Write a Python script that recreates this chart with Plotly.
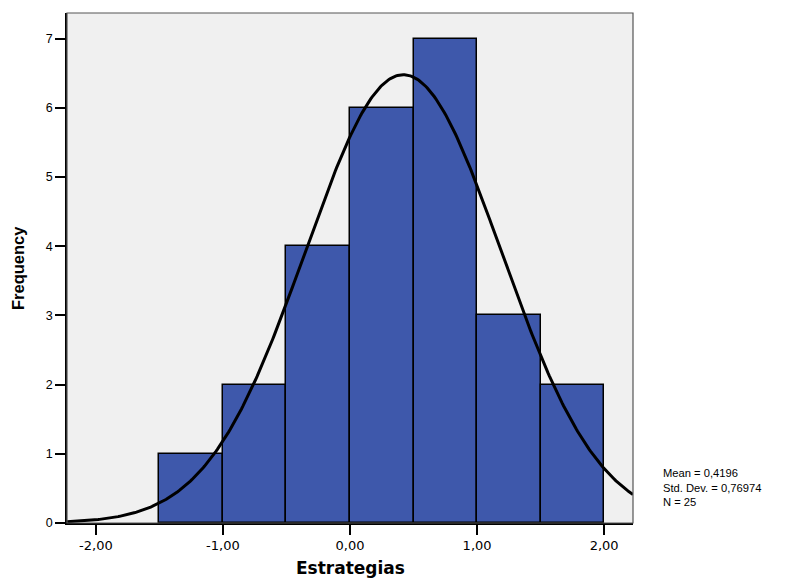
import numpy as np
import plotly.graph_objects as go

bin_centers = [-1.25, -0.75, -0.25, 0.25, 0.75, 1.25, 1.75]
counts = [1, 2, 4, 6, 7, 3, 2]
bin_width = 0.5
mean = 0.4196
std = 0.76974
n = 25
x_tick_vals = [-2, -1, 0, 1, 2]
x_tick_text = ["-2,00", "-1,00", "0,00", "1,00", "2,00"]
y_tick_vals = [0, 1, 2, 3, 4, 5, 6, 7]

xr = [-2.227, 2.227]
xs = np.linspace(xr[0], xr[1], 400)
ys = n * bin_width * np.exp(-0.5 * ((xs - mean) / std) ** 2) / (std * np.sqrt(2 * np.pi))

OFF = 8  # default page body margin
W, H = 792 - OFF, 579 - OFF
# plot area in window pixels
px0, px1, py0, py1 = 67, 633, 13, 523
ml, mr, mt, mb = px0 - OFF, W - (px1 - OFF), py0 - OFF, H - (py1 - OFF)
pw, ph = px1 - px0, py1 - py0


def fx(x):
    return (x - px0) / pw


def fy(y):
    return (py1 - y) / ph


fig = go.Figure()
fig.add_trace(go.Bar(x=bin_centers, y=counts, width=bin_width,
                     marker=dict(color="#3e58ab", line=dict(color="black", width=1.5)),
                     hoverinfo="skip"))
fig.add_trace(go.Scatter(x=xs, y=ys, mode="lines", line=dict(color="black", width=3),
                         hoverinfo="skip"))

fig.update_layout(
    width=W, height=H,
    margin=dict(l=ml, r=mr, t=mt, b=mb),
    paper_bgcolor="white", plot_bgcolor="#f0f0f0",
    showlegend=False, bargap=0,
    font=dict(family="Liberation Sans, Arial, sans-serif", color="black", size=12),
    xaxis=dict(range=xr, tickvals=x_tick_vals, ticktext=x_tick_text,
               ticks="outside", ticklen=10, tickwidth=1.5, tickcolor="black",
               showline=True, linecolor="black", linewidth=1.5,
               showgrid=False, zeroline=False, automargin=False,
               tickfont=dict(size=13, family="DejaVu Sans")),
    yaxis=dict(range=[0, 7.37], tickvals=y_tick_vals,
               ticks="outside", ticklen=10, tickwidth=1.5, tickcolor="black",
               showline=True, linecolor="black", linewidth=1.5,
               showgrid=False, zeroline=False, automargin=False,
               tickfont=dict(size=12.5)),
    shapes=[dict(type="rect", xref="paper", yref="paper", x0=0, y0=0, x1=1, y1=1,
                 line=dict(color="#555555", width=1.2), layer="above")],
    annotations=[
        dict(xref="paper", yref="paper", x=fx(661), y=fy(487),
             xanchor="left", yanchor="middle", align="left", showarrow=False,
             text=f"Mean = {str(mean).replace('.', ',')}<br>Std. Dev. = {str(std).replace('.', ',')}<br>N = {n}",
             font=dict(size=11.2)),
        dict(xref="paper", yref="paper", x=0.5, y=fy(568),
             xanchor="center", yanchor="middle", showarrow=False,
             text="<b>Estrategias</b>", font=dict(size=17, family="DejaVu Sans")),
        dict(xref="paper", yref="paper", x=fx(18), y=0.5,
             xanchor="center", yanchor="middle", showarrow=False, textangle=-90,
             text="<b>Frequency</b>", font=dict(size=16.5)),
    ],
)

fig.write_html("out.html")
